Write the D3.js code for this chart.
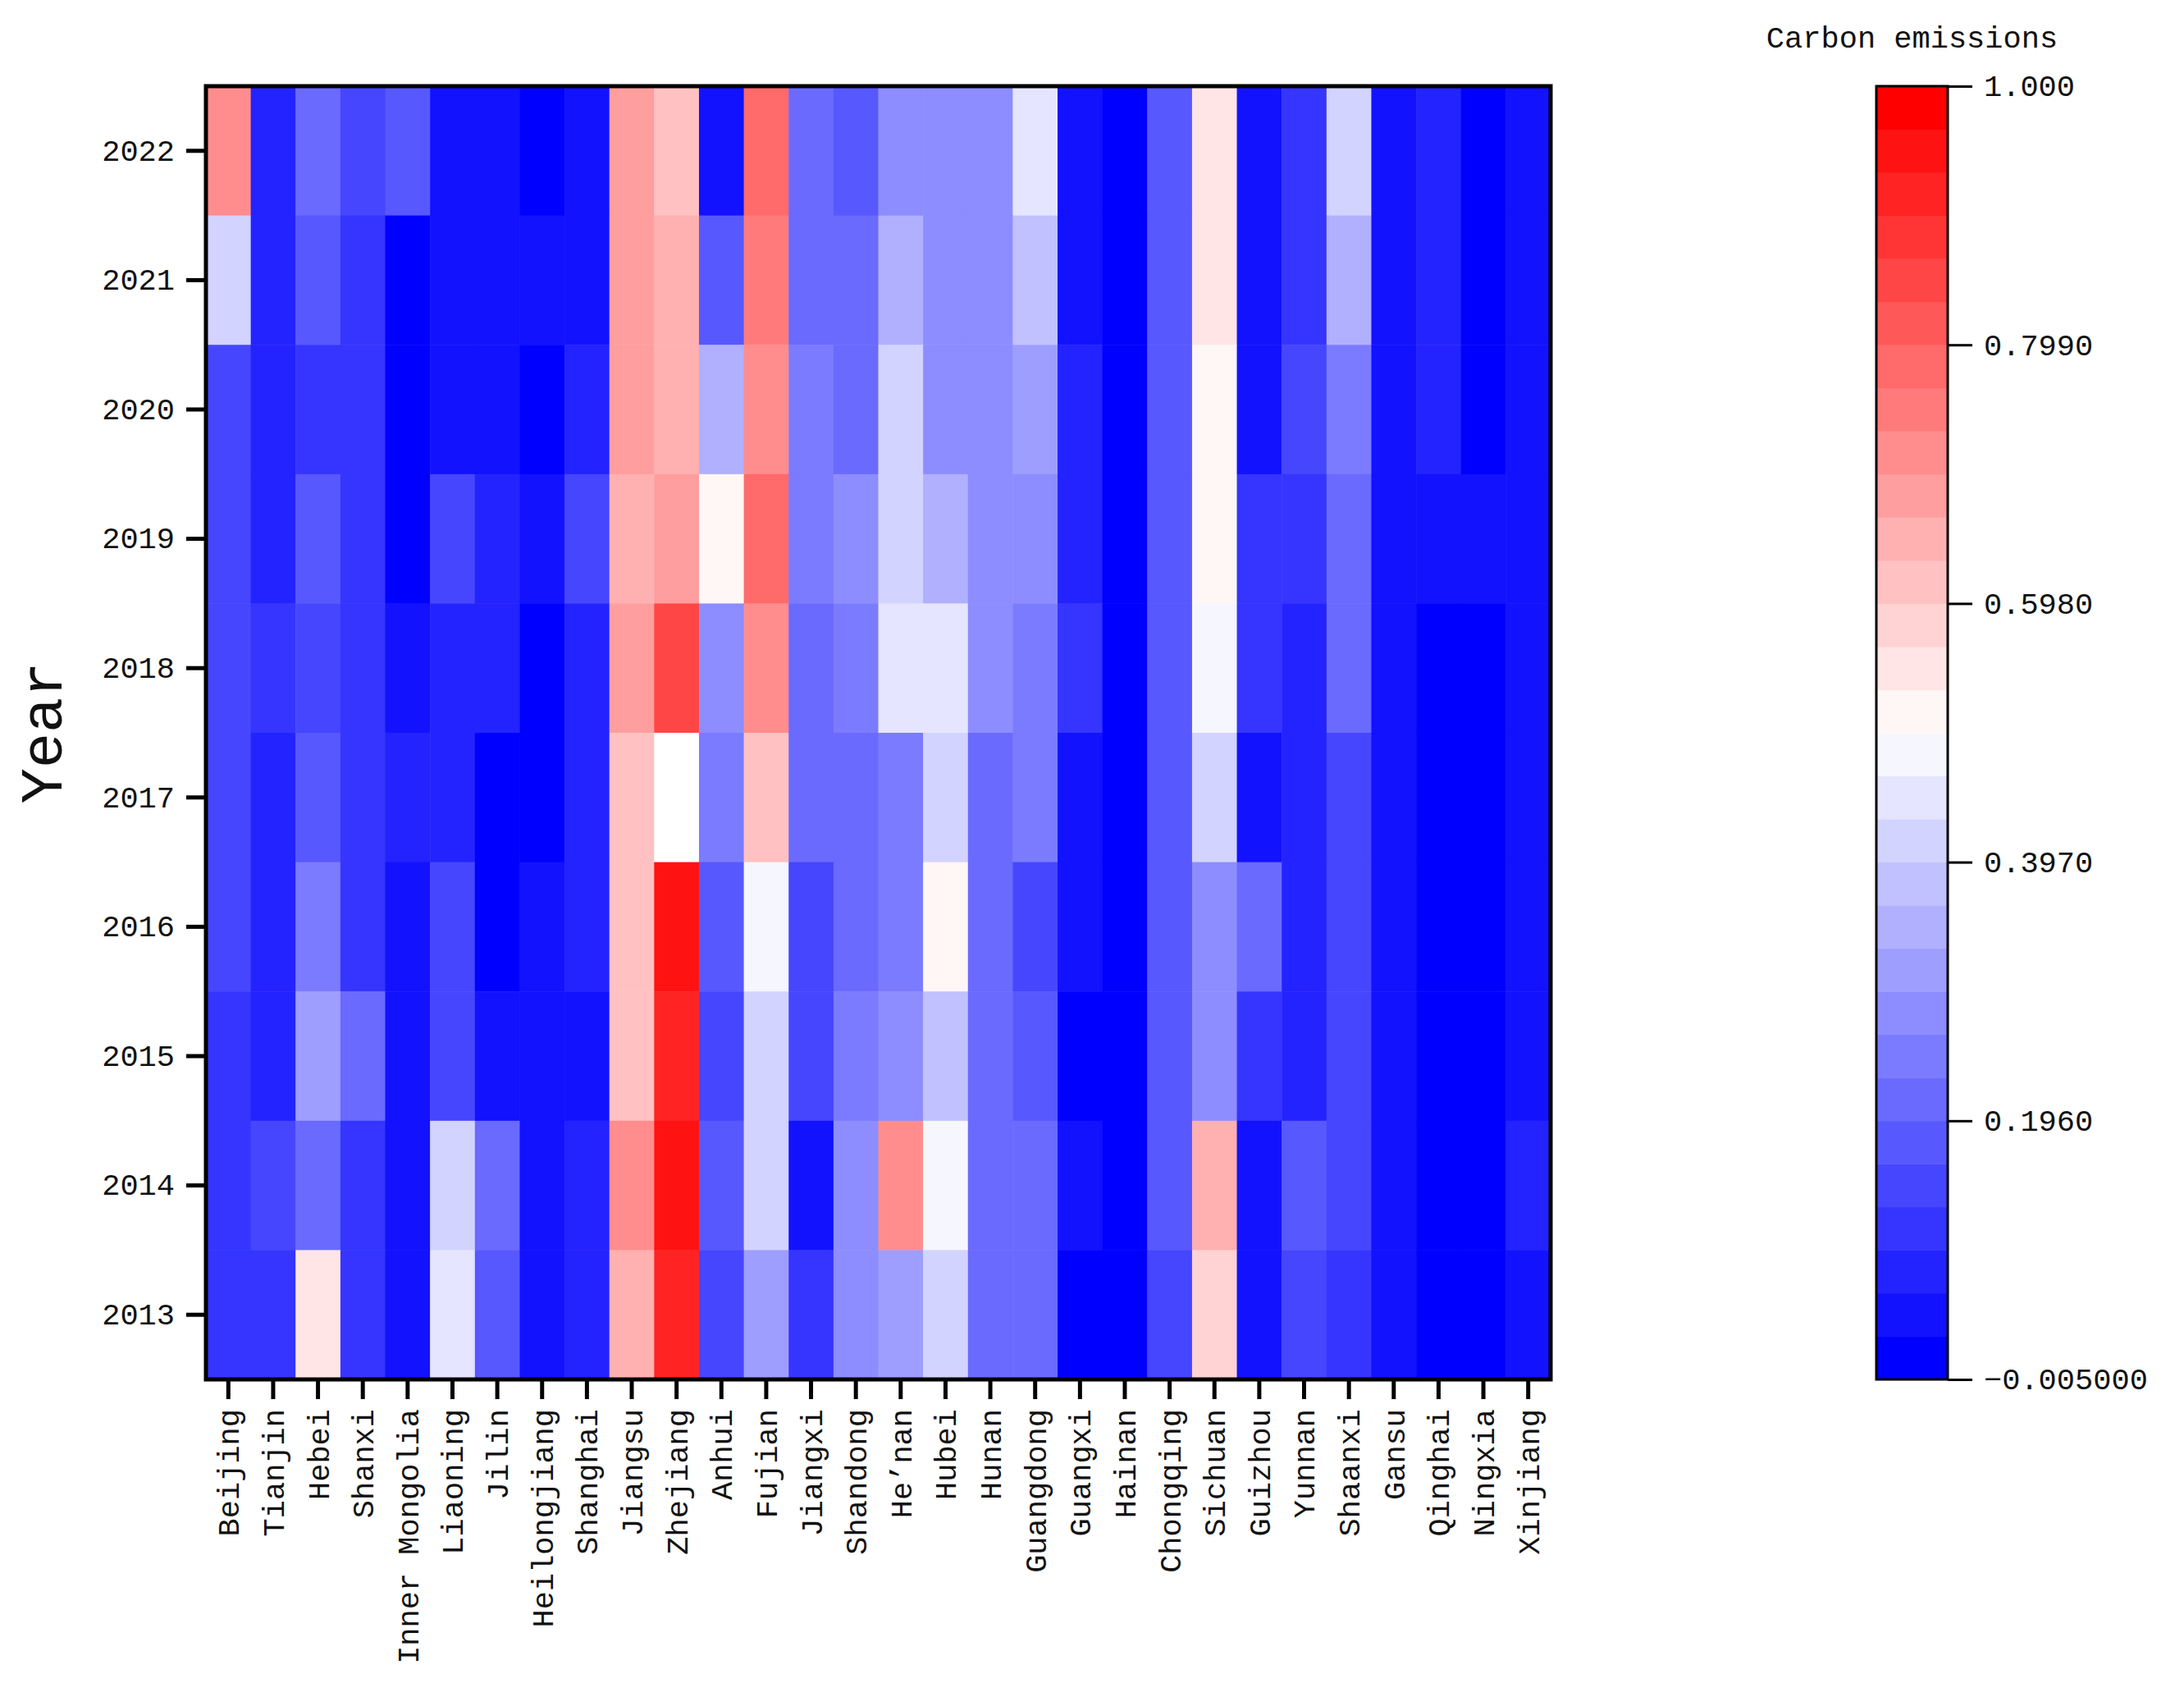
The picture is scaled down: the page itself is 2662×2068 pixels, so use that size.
<!DOCTYPE html>
<html>
<head>
<meta charset="utf-8">
<script src="https://cdn.jsdelivr.net/npm/d3@7"></script>
<style>
  body { margin: 0; background: #fff; }
  text { font-family: "Liberation Mono", "DejaVu Sans Mono", monospace; fill: #111; }
</style>
</head>
<body>
<div id="chart"></div>
<script>
const provinces = ["Beijing", "Tianjin", "Hebei", "Shanxi", "Inner Mongolia", "Liaoning", "Jilin",
  "Heilongjiang", "Shanghai", "Jiangsu", "Zhejiang", "Anhui", "Fujian", "Jiangxi", "Shandong",
  "He’nan", "Hubei", "Hunan", "Guangdong", "Guangxi", "Hainan", "Chongqing", "Sichuan",
  "Guizhou", "Yunnan", "Shaanxi", "Gansu", "Qinghai", "Ningxia", "Xinjiang"];
const years = [2022, 2021, 2020, 2019, 2018, 2017, 2016, 2015, 2014, 2013];

// values per year, in province order
const v2022 = [0.715,0.079,0.213,0.146,0.179,0.045,0.045,0.012,0.045,0.681,0.615,0.045,0.782,0.213,0.179,0.280,0.280,0.280,0.447,0.045,0.012,0.179,0.548,0.045,0.112,0.414,0.045,0.079,0.012,0.045];
const v2021 = [0.414,0.079,0.179,0.112,0.012,0.045,0.045,0.045,0.045,0.681,0.648,0.179,0.748,0.213,0.213,0.347,0.280,0.280,0.380,0.045,0.012,0.179,0.548,0.045,0.112,0.347,0.045,0.079,0.012,0.045];
const v2020 = [0.146,0.079,0.112,0.112,0.012,0.045,0.045,0.012,0.079,0.681,0.648,0.347,0.715,0.246,0.213,0.414,0.280,0.280,0.313,0.079,0.012,0.179,0.514,0.045,0.146,0.246,0.045,0.079,0.012,0.045];
const v2019 = [0.146,0.079,0.179,0.112,0.012,0.146,0.079,0.045,0.146,0.648,0.681,0.514,0.782,0.246,0.280,0.414,0.347,0.280,0.280,0.079,0.012,0.179,0.514,0.112,0.112,0.213,0.045,0.045,0.045,0.045];
const v2018 = [0.146,0.112,0.146,0.112,0.045,0.079,0.079,0.012,0.079,0.681,0.849,0.280,0.715,0.213,0.246,0.447,0.447,0.280,0.246,0.112,0.012,0.179,0.481,0.112,0.079,0.213,0.045,0.012,0.012,0.045];
const v2017 = [0.146,0.079,0.179,0.112,0.079,0.079,0.012,0.012,0.079,0.615,0.500,0.246,0.615,0.213,0.213,0.246,0.414,0.213,0.246,0.045,0.012,0.179,0.414,0.045,0.079,0.146,0.045,0.012,0.012,0.045];
const v2016 = [0.146,0.079,0.246,0.112,0.045,0.146,0.012,0.045,0.079,0.615,0.949,0.179,0.481,0.146,0.213,0.246,0.514,0.213,0.146,0.045,0.012,0.179,0.280,0.213,0.079,0.146,0.045,0.012,0.012,0.045];
const v2015 = [0.112,0.079,0.313,0.213,0.045,0.146,0.045,0.045,0.045,0.615,0.916,0.146,0.414,0.146,0.246,0.280,0.380,0.213,0.179,0.012,0.012,0.179,0.280,0.112,0.079,0.146,0.045,0.012,0.012,0.045];
const v2014 = [0.112,0.146,0.213,0.112,0.045,0.414,0.213,0.045,0.079,0.715,0.949,0.179,0.414,0.045,0.280,0.715,0.481,0.213,0.213,0.045,0.012,0.179,0.648,0.045,0.179,0.146,0.045,0.012,0.012,0.079];
const v2013 = [0.112,0.112,0.548,0.112,0.045,0.447,0.179,0.045,0.079,0.648,0.916,0.146,0.313,0.112,0.280,0.313,0.414,0.213,0.213,0.012,0.012,0.146,0.581,0.045,0.146,0.112,0.045,0.012,0.012,0.045];
const yearValues = [v2022, v2021, v2020, v2019, v2018, v2017, v2016, v2015, v2014, v2013];

const colorTicks = [-0.005, 0.196, 0.397, 0.598, 0.799, 1.0];
const colorTickLabels = ["\u22120.005000", "0.1960", "0.3970", "0.5980", "0.7990", "1.000"];
const nLevels = 30;

const W = 2662, H = 2068;
const plot = { left: 251, right: 1890, top: 105, bottom: 1681 };
const bar = { left: 2287, right: 2374 };

// discrete bwr colour map
const bwr = t => t < 0.5
  ? d3.rgb(510 * t, 510 * t, 255)
  : d3.rgb(255, 510 * (1 - t), 510 * (1 - t));
const levels = d3.range(nLevels).map(i => bwr(i / (nLevels - 1)).formatHex());
const color = d3.scaleQuantize().domain([-0.005, 1.0]).range(levels);

const svg = d3.select("#chart").append("svg")
  .attr("width", W).attr("height", H);

const x = d3.scaleBand().domain(provinces).range([plot.left, plot.right]);
const y = d3.scaleBand().domain(years).range([plot.top, plot.bottom]);

const cells = [];
years.forEach((yr, i) => provinces.forEach((p, j) => cells.push({ yr, p, v: yearValues[i][j] })));

svg.append("g").selectAll("rect").data(cells).join("rect")
  .attr("x", d => x(d.p)).attr("y", d => y(d.yr))
  .attr("width", x.bandwidth() + 0.5).attr("height", y.bandwidth() + 0.5)
  .attr("fill", d => d.v === 0.5 ? "#ffffff" : color(d.v));

svg.append("rect")
  .attr("x", plot.left).attr("y", plot.top)
  .attr("width", plot.right - plot.left).attr("height", plot.bottom - plot.top)
  .attr("fill", "none").attr("stroke", "#000").attr("stroke-width", 5);

// x axis
const xAxis = svg.append("g")
  .attr("transform", `translate(0,${plot.bottom})`)
  .call(d3.axisBottom(x).tickSize(24).tickSizeOuter(0));
xAxis.select(".domain").remove();
xAxis.selectAll(".tick line").attr("stroke-width", 5);
xAxis.selectAll(".tick text")
  .attr("font-size", 37)
  .attr("transform", "rotate(-90)")
  .attr("text-anchor", "end")
  .attr("dy", "0.35em")
  .attr("x", -36).attr("y", 0);

// y axis
const yAxis = svg.append("g")
  .attr("transform", `translate(${plot.left},0)`)
  .call(d3.axisLeft(y).tickSize(24).tickSizeOuter(0).tickPadding(14));
yAxis.select(".domain").remove();
yAxis.selectAll(".tick line").attr("stroke-width", 5);
yAxis.selectAll(".tick text").attr("font-size", 37);

svg.append("text")
  .attr("transform", `translate(75,${(plot.top + plot.bottom) / 2}) rotate(-90)`)
  .attr("text-anchor", "middle")
  .attr("font-size", 72)
  .text("Year");

// colour bar
const cb = d3.scaleLinear().domain([-0.005, 1.0]).range([plot.bottom, plot.top]);
const bandEdges = d3.range(nLevels + 1).map(i => -0.005 + i * 1.005 / nLevels);
svg.append("g").selectAll("rect").data(levels).join("rect")
  .attr("x", bar.left).attr("width", bar.right - bar.left)
  .attr("y", (d, i) => cb(bandEdges[i + 1]))
  .attr("height", (d, i) => cb(bandEdges[i]) - cb(bandEdges[i + 1]) + 0.5)
  .attr("fill", d => d);
svg.append("rect")
  .attr("x", bar.left).attr("y", plot.top)
  .attr("width", bar.right - bar.left).attr("height", plot.bottom - plot.top)
  .attr("fill", "none").attr("stroke", "#000").attr("stroke-width", 3);

const cAxis = svg.append("g")
  .attr("transform", `translate(${bar.right},0)`)
  .call(d3.axisRight(cb).tickValues(colorTicks)
    .tickFormat((d, i) => colorTickLabels[i]).tickSize(30).tickPadding(14));
cAxis.select(".domain").remove();
cAxis.selectAll(".tick line").attr("stroke-width", 3);
cAxis.selectAll(".tick text").attr("font-size", 37);

svg.append("text")
  .attr("x", (bar.left + bar.right) / 2).attr("y", 58)
  .attr("text-anchor", "middle")
  .attr("font-size", 37)
  .text("Carbon emissions");
</script>
</body>
</html>
